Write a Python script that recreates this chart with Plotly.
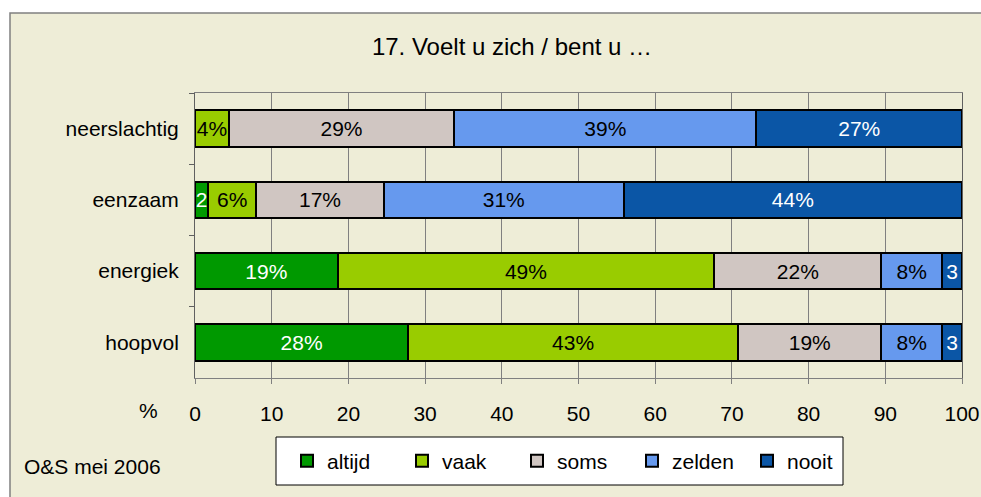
import plotly.graph_objects as go

categories = ["neerslachtig", "eenzaam", "energiek", "hoopvol"]
series_names = ["altijd", "vaak", "soms", "zelden", "nooit"]
altijd = [0.0, 1.7, 18.6, 27.8]
vaak = [4.4, 6.3, 49.1, 43.0]
soms = [29.4, 16.6, 21.8, 18.7]
zelden = [39.4, 31.3, 7.9, 7.9]
nooit = [26.8, 44.1, 2.6, 2.6]
x_ticks = [0, 10, 20, 30, 40, 50, 60, 70, 80, 90, 100]

series_values = [altijd, vaak, soms, zelden, nooit]
colors = ["#009900", "#99CC00", "#D0C6C2", "#6699EE", "#0B56A6"]
text_colors = ["white", "black", "black", "black", "white"]

FONT = "Liberation Sans, Arial, sans-serif"
FS = 21


def label(v):
    r = round(v)
    if r == 0:
        return ""
    if v < 3:
        return str(r)
    return f"{r}%"


fig = go.Figure()
for name, vals, col, tcol in zip(series_names, series_values, colors, text_colors):
    fig.add_trace(go.Bar(
        y=categories, x=vals, name=name, orientation="h",
        marker=dict(color=col, line=dict(color="black", width=2)),
        text=[label(v) for v in vals], textposition="inside",
        insidetextanchor="middle", textangle=0,
        textfont=dict(color=tcol, size=FS, family=FONT),
        constraintext="none", hoverinfo="skip",
    ))

W, H = 981, 497
L, R, T, B = 195, 19, 93, 119
pw, ph = W - L - R, H - T - B


def px(x):
    return (x - L) / pw


def py(y):
    return (H - B - y) / ph


fig.update_layout(
    width=W, height=H, barmode="stack", bargap=0.49,
    margin=dict(l=L, r=R, t=T, b=B, autoexpand=False),
    paper_bgcolor="white", plot_bgcolor="white",
    font=dict(family=FONT, size=FS, color="black"),
    uniformtext=dict(minsize=FS, mode="show"),
    title=dict(text="17. Voelt u zich / bent u …", x=512 / W, xanchor="center",
               y=1 - 47 / H, yanchor="middle", xref="container", yref="container",
               font=dict(size=24, family=FONT, color="black")),
    xaxis=dict(range=[0, 100], tickvals=x_ticks, showgrid=True, gridcolor="#808080",
               gridwidth=1, showline=True, linecolor="#808080", linewidth=1, mirror=True,
               ticks="outside", ticklen=5, tickcolor="#808080", zeroline=False,
               ticklabelstandoff=12, tickfont=dict(size=FS), automargin=False),
    yaxis=dict(categoryorder="array", categoryarray=categories, autorange="reversed",
               showline=True, linecolor="#606060", linewidth=1, mirror=True,
               ticks="outside", ticklen=5, tickcolor="#606060", tickson="boundaries",
               showgrid=False, ticklabelstandoff=11, tickfont=dict(size=FS),
               automargin=False),
    legend=dict(orientation="h", x=px(287), y=py(461), xanchor="left", yanchor="middle",
                bgcolor="rgba(0,0,0,0)", borderwidth=0, font=dict(size=FS),
                entrywidth=70, entrywidthmode="pixels", itemwidth=30,
                traceorder="normal"),
    showlegend=True,
)

fig.add_shape(type="rect", xref="paper", yref="paper", layer="below",
              x0=px(10), x1=px(W + 20), y0=py(H + 20), y1=py(13),
              fillcolor="#EEEDD7", line=dict(color="#808080", width=1.5))
fig.add_shape(type="rect", xref="paper", yref="paper", layer="below",
              x0=px(276), x1=px(843), y0=py(485), y1=py(437),
              fillcolor="white", line=dict(color="black", width=1))

fig.add_annotation(text="%", xref="paper", yref="paper", x=px(148), y=py(410),
                   showarrow=False, xanchor="center", yanchor="middle", font=dict(size=FS))
fig.add_annotation(text="O&amp;S mei 2006", xref="paper", yref="paper", x=px(22), y=py(466),
                   showarrow=False, xanchor="left", yanchor="middle", font=dict(size=FS))

fig.write_html("out.html", config={"displayModeBar": False},
               post_script="document.body.style.margin='0';document.body.style.overflow='hidden';")
